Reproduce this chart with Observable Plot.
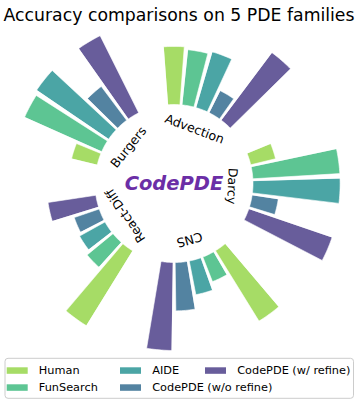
<!DOCTYPE html>
<html><head><meta charset="utf-8">
<script src="https://cdn.jsdelivr.net/npm/d3@7"></script>
<script src="https://cdn.jsdelivr.net/npm/@observablehq/plot@0.6"></script>
<style>body{margin:0;background:#fff}</style>
</head><body><div id="chart"></div>
<script>
// ---- data ----
const families = ["Advection", "Darcy", "CNS", "React-Diff", "Burgers"];
const methods = ["Human", "FunSearch", "AIDE", "CodePDE (w/o refine)", "CodePDE (w/ refine)"];
// normalized scores per family (order = families)
const human      = [0.66, 0.29, 0.94, 1.00, 0.30];
const funsearch  = [0.63, 0.99, 0.30, 0.38, 0.96];
const aide       = [0.66, 0.99, 0.39, 0.33, 0.99];
const codepdeNo  = [0.28, 0.30, 0.55, 0.30, 0.48];
const codepdeYes = [0.96, 1.00, 1.00, 0.55, 0.98];
const colors = ["#a6dc66", "#5dc593", "#4ba5a5", "#5383a1", "#685d9b"];
const title = "Accuracy comparisons on 5 PDE families";
const centerLabel = "CodePDE";

const series = [human, funsearch, aide, codepdeNo, codepdeYes];

// ---- layout ----
const W = 357, H = 400;
const CX = 173.5, CY = 183, R0 = 79, RL = 88, RLAB = 58;
const STEP = 360 / 35, BW = 8.6;
const pol = (r, a) => { const t = a * Math.PI / 180; return [CX + r * Math.sin(t), CY - r * Math.cos(t)]; };

const bars = [];
families.forEach((f, g) => methods.forEach((m, i) => {
  bars.push({family: f, method: m, value: series[i][g], angle: g * 72 + i * STEP, id: f + "|" + m});
}));
const pts = [];
bars.forEach(d => {
  const r1 = R0 + d.value * RL, n = 10;
  for (let j = 0; j <= n; j++) { const a = d.angle - BW / 2 + BW * j / n; const [x, y] = pol(r1, a); pts.push({id: d.id, method: d.method, x, y}); }
  for (let j = n; j >= 0; j--) { const a = d.angle - BW / 2 + BW * j / n; const [x, y] = pol(R0, a); pts.push({id: d.id, method: d.method, x, y}); }
});
const labels = families.map((f, g) => {
  const a = g * 72 + 2 * STEP; const [x, y] = pol(RLAB, a);
  return {text: f, x, y, rot: a};
});
const legend = methods.map((m, i) => {
  const col = Math.floor(i / 2), row = i % 2;
  const sx = [6.7, 120, 205][col];
  const tx = [38.3, 151.7, 236.7][col];
  const cy = [370.3, 387.3][row];
  return {method: m, sx, tx, cy};
});

const chart = Plot.plot({
  width: W, height: H, margin: 0,
  x: {domain: [0, W], range: [0, W], axis: null},
  y: {domain: [0, H], range: [0, H], axis: null},
  color: {domain: methods, range: colors},
  style: {fontFamily: "DejaVu Sans", background: "#fff"},
  marks: [
    Plot.line(pts, {x: "x", y: "y", z: "id", fill: "method", stroke: "white", strokeWidth: 0.6, curve: "linear-closed"}),
    Plot.text(labels, {x: "x", y: "y", text: "text", rotate: "rot", fontSize: 12.5, fill: "black", textAnchor: "middle", lineAnchor: "middle"}),
    Plot.text([centerLabel], {x: CX, y: CY, text: d => d, fontSize: 19.5, fontWeight: "bold", fontStyle: "italic", fill: "#6b2ea6", textAnchor: "middle", lineAnchor: "middle"}),
    Plot.text([title], {x: W / 2, y: 15, text: d => d, fontSize: 17.3, fill: "black", textAnchor: "middle", lineAnchor: "middle"}),
    Plot.rect([0], {x1: 5, x2: 353.5, y1: 358.3, y2: 398.3, rx: 3, fill: "white", stroke: "#cccccc", strokeWidth: 1}),
    Plot.rect(legend, {x1: "sx", x2: d => d.sx + 21, y1: d => d.cy - 3, y2: d => d.cy + 3.5, fill: "method"}),
    Plot.text(legend, {x: "tx", y: "cy", text: "method", fontSize: 11.3, fill: "black", textAnchor: "start", lineAnchor: "middle"})
  ]
});
document.getElementById("chart").appendChild(chart);
</script>
</body></html>
